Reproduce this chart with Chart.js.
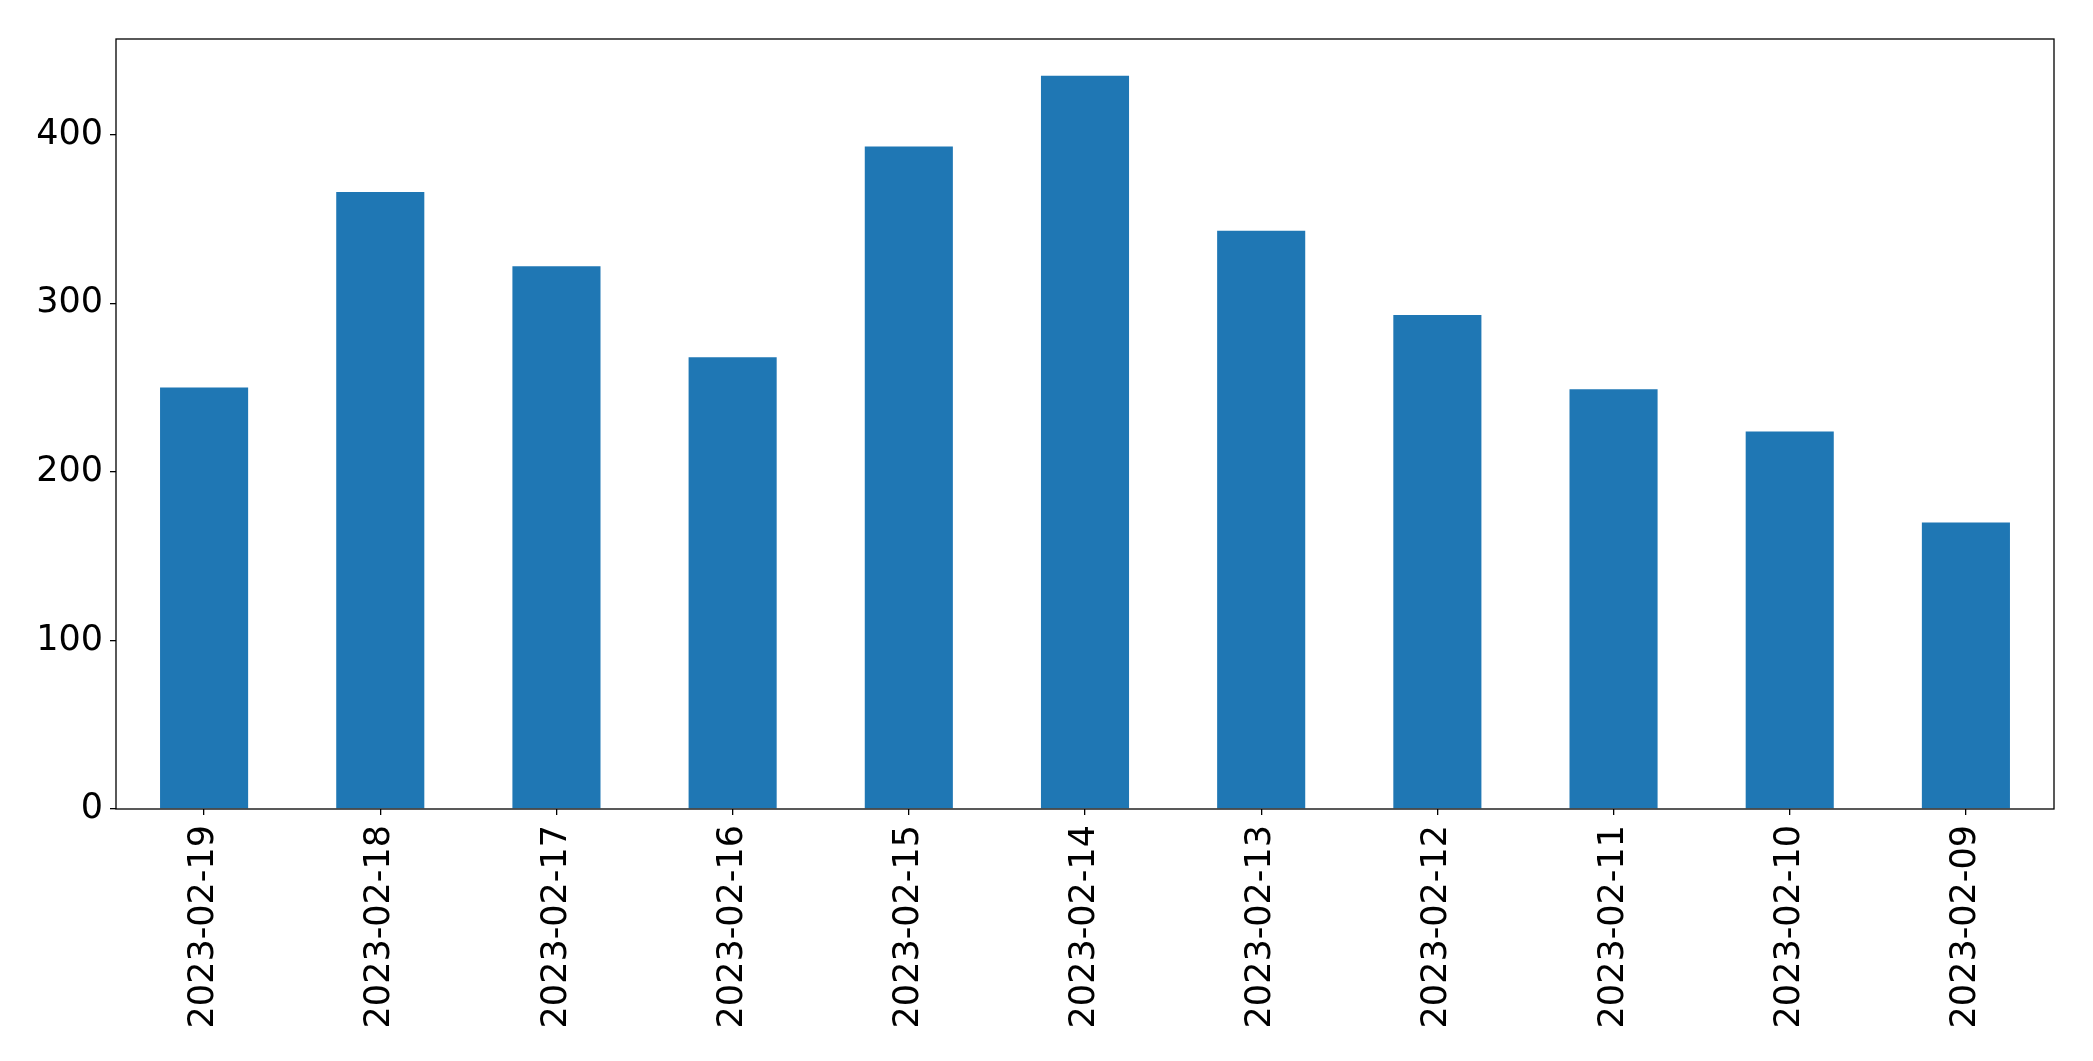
<!DOCTYPE html>
<html>
<head>
<meta charset="utf-8">
<script src="https://cdn.jsdelivr.net/npm/chart.js@4"></script>
<style>
  html, body { margin: 0; padding: 0; background: #fff; }
  #wrap { width: 2093px; height: 1061px; }
</style>
</head>
<body>
<div id="wrap"><canvas id="c" width="2093" height="1061"></canvas></div>
<script>
const categories = ["2023-02-19","2023-02-18","2023-02-17","2023-02-16","2023-02-15","2023-02-14","2023-02-13","2023-02-12","2023-02-11","2023-02-10","2023-02-09"];
const values = [250, 366, 322, 268, 393, 435, 343, 293, 249, 224, 170];
const yTicks = [0, 100, 200, 300, 400];

const frame = {
  id: 'frame',
  afterDatasetsDraw(chart) {
    const a = chart.chartArea, ctx = chart.ctx;
    ctx.save();
    ctx.strokeStyle = '#000';
    ctx.lineWidth = 1.3;
    ctx.strokeRect(a.left, a.top, a.right - a.left, a.bottom - a.top);
    ctx.restore();
  }
};

new Chart(document.getElementById('c'), {
  type: 'bar',
  data: {
    labels: categories,
    datasets: [{
      data: values,
      backgroundColor: '#1f77b4',
      borderWidth: 0,
      barPercentage: 0.5,
      categoryPercentage: 1.0
    }]
  },
  options: {
    responsive: false,
    animation: false,
    layout: { padding: { top: 39, right: 39, left: 0, bottom: 0 } },
    plugins: { legend: { display: false }, tooltip: { enabled: false } },
    scales: {
      x: {
        offset: true,
        grid: { display: true, offset: false, drawOnChartArea: false, drawTicks: true, tickLength: 6, color: '#000', lineWidth: 1.3 },
        border: { display: false },
        ticks: {
          color: '#000',
          font: { family: 'DejaVu Sans', size: 35 },
          maxRotation: 90, minRotation: 90,
          padding: 10,
          autoSkip: false
        },
        afterFit(s) { s.height = 252; }
      },
      y: {
        min: 0,
        max: 456.75,
        grid: { display: true, drawOnChartArea: false, drawTicks: true, tickLength: 6, color: '#000', lineWidth: 1.3 },
        border: { display: false },
        ticks: {
          color: '#000',
          font: { family: 'DejaVu Sans', size: 35 },
          stepSize: 100,
          padding: 7
        },
        afterBuildTicks(s) { s.ticks = yTicks.map(v => ({ value: v })); },
        afterFit(s) { s.width = 116; }
      }
    }
  },
  plugins: [frame]
});
</script>
</body>
</html>
